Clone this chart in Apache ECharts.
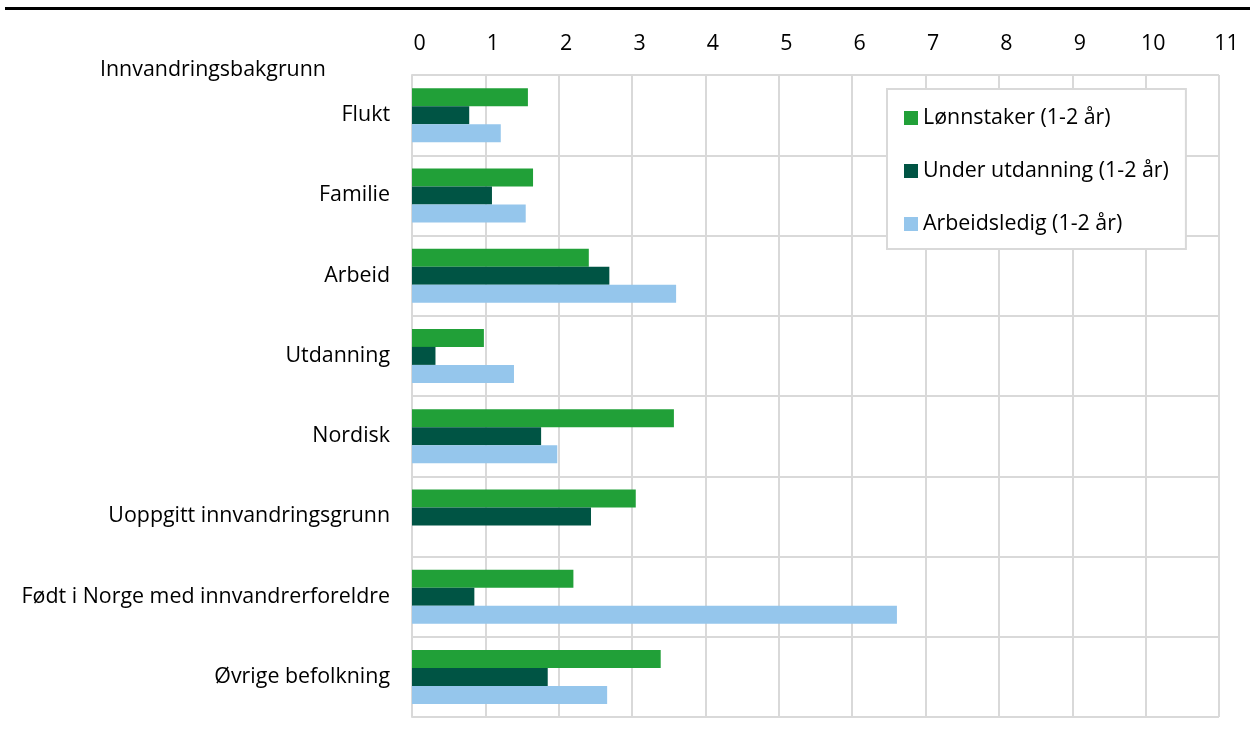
<!DOCTYPE html>
<html>
<head>
<meta charset="utf-8">
<style>
  html, body { margin: 0; padding: 0; background: #fff; }
  #main { width: 1250px; height: 729px; }
</style>
<script src="https://cdn.jsdelivr.net/npm/echarts@6/dist/echarts.min.js"></script>
</head>
<body>
<div id="main"></div>
<script>
  // kategorier (ovenfra og ned)
  var categories = ['Flukt', 'Familie', 'Arbeid', 'Utdanning', 'Nordisk',
    'Uoppgitt innvandringsgrunn', 'Født i Norge med innvandrerforeldre', 'Øvrige befolkning'];
  var seriesNames = ['Lønnstaker (1-2 år)', 'Under utdanning (1-2 år)', 'Arbeidsledig (1-2 år)'];
  var lonnstaker = [1.58, 1.65, 2.41, 0.98, 3.57, 3.05, 2.20, 3.39];
  var underUtdanning = [0.78, 1.09, 2.69, 0.32, 1.76, 2.44, 0.85, 1.85];
  var arbeidsledig = [1.21, 1.55, 3.60, 1.39, 1.98, null, 6.61, 2.66];
  var colors = ['#21a038', '#005444', '#95c6ec'];

  var font = '"Open Sans", "Noto Sans", sans-serif';
  var fs = 21.4;
  var myChart = echarts.init(document.getElementById('main'));

  function bar(name, data, color) {
    return {
      name: name,
      type: 'bar',
      barWidth: 18,
      barGap: '0%',
      data: data,
      itemStyle: { color: color }
    };
  }

  myChart.setOption({
    animation: false,
    textStyle: { fontFamily: font },
    title: {
      text: 'Innvandringsbakgrunn',
      left: 100,
      top: 59,
      padding: 0,
      textStyle: { fontFamily: font, fontSize: fs, fontWeight: 'normal', color: '#000' }
    },
    legend: {
      data: seriesNames,
      orient: 'vertical',
      left: 887,
      top: 89,
      padding: [18, 17, 14, 17],
      itemWidth: 14,
      itemHeight: 14,
      itemGap: 31,
      icon: 'rect',
      backgroundColor: '#fff',
      borderColor: '#d9d9d9',
      borderWidth: 2,
      textStyle: { fontFamily: font, fontSize: fs, color: '#000', lineHeight: 22 }
    },
    grid: {
      left: 412,
      right: 31,
      top: 75,
      bottom: 12,
      containLabel: false
    },
    xAxis: {
      type: 'value',
      position: 'top',
      min: 0,
      max: 11,
      interval: 1,
      axisLine: { show: false },
      axisTick: { show: false },
      axisLabel: {
        margin: 21,
        padding: [0, 0, 0, 15],
        fontFamily: font,
        fontSize: fs,
        color: '#000'
      },
      splitLine: { show: true, lineStyle: { color: '#d9d9d9', width: 2 } }
    },
    yAxis: {
      type: 'category',
      inverse: true,
      data: categories,
      axisLine: { show: true, lineStyle: { color: '#d9d9d9', width: 2 } },
      axisTick: { show: false },
      axisLabel: { margin: 22, fontFamily: font, fontSize: fs, color: '#000' },
      splitLine: { show: true, lineStyle: { color: '#d9d9d9', width: 2 } }
    },
    graphic: [
      {
        type: 'line',
        shape: { x1: 5, y1: 8.5, x2: 1250, y2: 8.5 },
        style: { stroke: '#000', lineWidth: 3 }
      }
    ],
    series: [
      bar(seriesNames[0], lonnstaker, colors[0]),
      bar(seriesNames[1], underUtdanning, colors[1]),
      bar(seriesNames[2], arbeidsledig, colors[2])
    ]
  });
</script>
</body>
</html>
